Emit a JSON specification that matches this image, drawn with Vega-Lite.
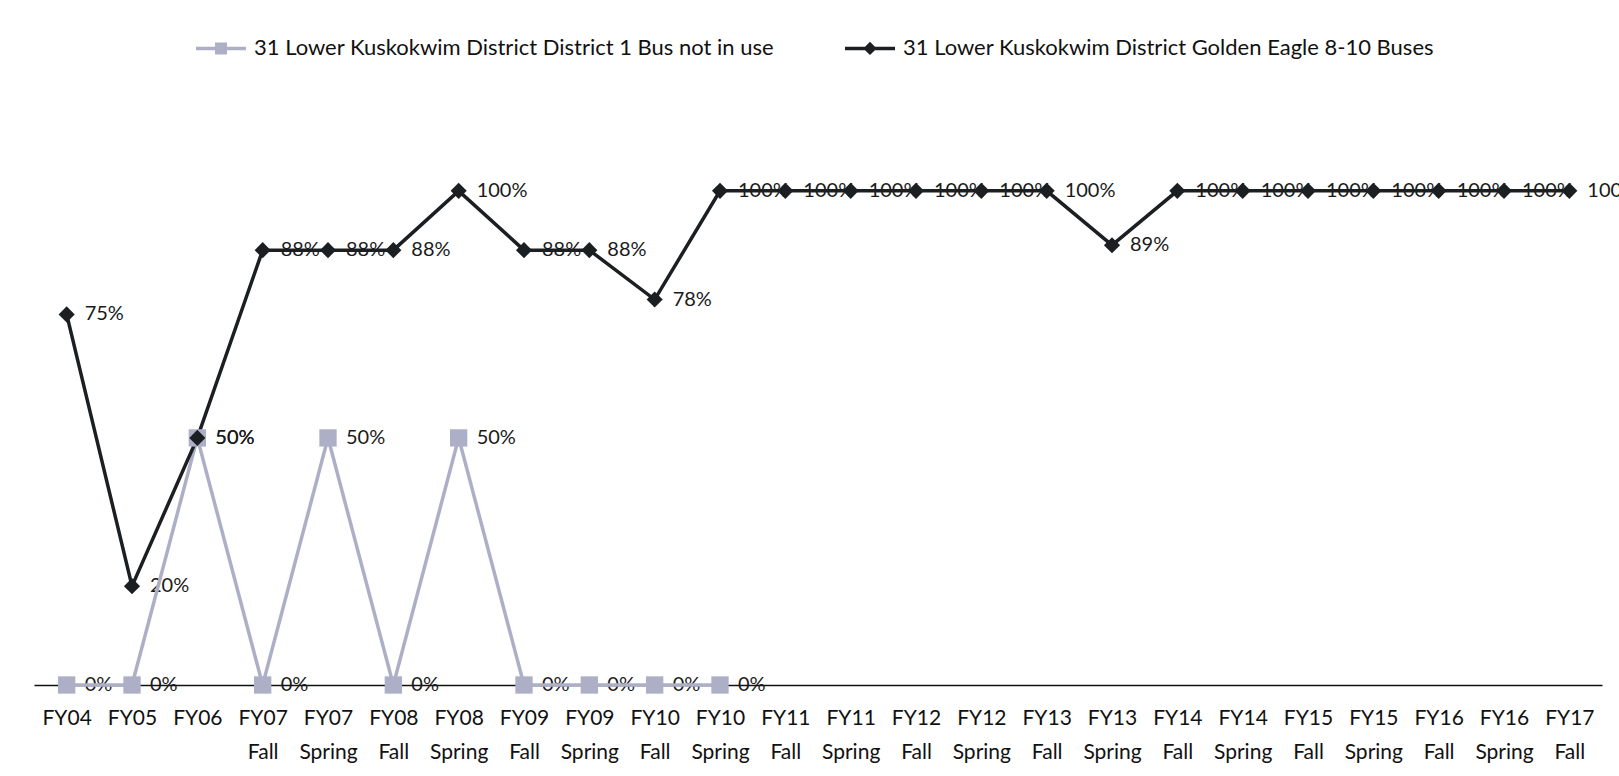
{
  "$schema": "https://vega.github.io/schema/vega-lite/v6.json",
  "autosize": {"type": "none"},
  "width": 1568,
  "height": 593,
  "padding": {"left": 34, "top": 92, "right": 17, "bottom": 91},
  "background": "white",
  "config": {"view": {"stroke": null}, "font": "Lato"},
  "data": {"values": [
    {"period": "FY04", "series": "31 Lower Kuskokwim District District 1 Bus not in use", "value": 0},
    {"period": "FY05", "series": "31 Lower Kuskokwim District District 1 Bus not in use", "value": 0},
    {"period": "FY06", "series": "31 Lower Kuskokwim District District 1 Bus not in use", "value": 0.5},
    {"period": "FY07 Fall", "series": "31 Lower Kuskokwim District District 1 Bus not in use", "value": 0},
    {"period": "FY07 Spring", "series": "31 Lower Kuskokwim District District 1 Bus not in use", "value": 0.5},
    {"period": "FY08 Fall", "series": "31 Lower Kuskokwim District District 1 Bus not in use", "value": 0},
    {"period": "FY08 Spring", "series": "31 Lower Kuskokwim District District 1 Bus not in use", "value": 0.5},
    {"period": "FY09 Fall", "series": "31 Lower Kuskokwim District District 1 Bus not in use", "value": 0},
    {"period": "FY09 Spring", "series": "31 Lower Kuskokwim District District 1 Bus not in use", "value": 0},
    {"period": "FY10 Fall", "series": "31 Lower Kuskokwim District District 1 Bus not in use", "value": 0},
    {"period": "FY10 Spring", "series": "31 Lower Kuskokwim District District 1 Bus not in use", "value": 0},
    {"period": "FY04", "series": "31 Lower Kuskokwim District Golden Eagle 8-10 Buses", "value": 0.75},
    {"period": "FY05", "series": "31 Lower Kuskokwim District Golden Eagle 8-10 Buses", "value": 0.2},
    {"period": "FY06", "series": "31 Lower Kuskokwim District Golden Eagle 8-10 Buses", "value": 0.5},
    {"period": "FY07 Fall", "series": "31 Lower Kuskokwim District Golden Eagle 8-10 Buses", "value": 0.88},
    {"period": "FY07 Spring", "series": "31 Lower Kuskokwim District Golden Eagle 8-10 Buses", "value": 0.88},
    {"period": "FY08 Fall", "series": "31 Lower Kuskokwim District Golden Eagle 8-10 Buses", "value": 0.88},
    {"period": "FY08 Spring", "series": "31 Lower Kuskokwim District Golden Eagle 8-10 Buses", "value": 1.0},
    {"period": "FY09 Fall", "series": "31 Lower Kuskokwim District Golden Eagle 8-10 Buses", "value": 0.88},
    {"period": "FY09 Spring", "series": "31 Lower Kuskokwim District Golden Eagle 8-10 Buses", "value": 0.88},
    {"period": "FY10 Fall", "series": "31 Lower Kuskokwim District Golden Eagle 8-10 Buses", "value": 0.78},
    {"period": "FY10 Spring", "series": "31 Lower Kuskokwim District Golden Eagle 8-10 Buses", "value": 1.0},
    {"period": "FY11 Fall", "series": "31 Lower Kuskokwim District Golden Eagle 8-10 Buses", "value": 1.0},
    {"period": "FY11 Spring", "series": "31 Lower Kuskokwim District Golden Eagle 8-10 Buses", "value": 1.0},
    {"period": "FY12 Fall", "series": "31 Lower Kuskokwim District Golden Eagle 8-10 Buses", "value": 1.0},
    {"period": "FY12 Spring", "series": "31 Lower Kuskokwim District Golden Eagle 8-10 Buses", "value": 1.0},
    {"period": "FY13 Fall", "series": "31 Lower Kuskokwim District Golden Eagle 8-10 Buses", "value": 1.0},
    {"period": "FY13 Spring", "series": "31 Lower Kuskokwim District Golden Eagle 8-10 Buses", "value": 0.89},
    {"period": "FY14 Fall", "series": "31 Lower Kuskokwim District Golden Eagle 8-10 Buses", "value": 1.0},
    {"period": "FY14 Spring", "series": "31 Lower Kuskokwim District Golden Eagle 8-10 Buses", "value": 1.0},
    {"period": "FY15 Fall", "series": "31 Lower Kuskokwim District Golden Eagle 8-10 Buses", "value": 1.0},
    {"period": "FY15 Spring", "series": "31 Lower Kuskokwim District Golden Eagle 8-10 Buses", "value": 1.0},
    {"period": "FY16 Fall", "series": "31 Lower Kuskokwim District Golden Eagle 8-10 Buses", "value": 1.0},
    {"period": "FY16 Spring", "series": "31 Lower Kuskokwim District Golden Eagle 8-10 Buses", "value": 1.0},
    {"period": "FY17 Fall", "series": "31 Lower Kuskokwim District Golden Eagle 8-10 Buses", "value": 1.0}
  ]},
  "encoding": {
    "x": {
      "field": "period", "type": "ordinal", "sort": null,
      "scale": {"type": "point", "padding": 0.5},
      "axis": {
        "title": null, "labelAngle": 0, "ticks": false,
        "domainColor": "#111", "domainWidth": 1.5,
        "labelColor": "#111", "labelFontSize": 21, "labelFont": "Lato",
        "labelPadding": 22, "labelLineHeight": 34, "labelBaseline": "top",
        "labelExpr": "split(datum.label, ' ')"
      }
    },
    "y": {
      "field": "value", "type": "quantitative",
      "scale": {"domain": [0, 1.2], "nice": false, "zero": true},
      "axis": null
    }
  },
  "layer": [
    {
      "mark": {"type": "text", "align": "left", "baseline": "middle", "dx": 18, "fontSize": 20, "font": "Lato", "color": "#1a1a1a"},
      "encoding": {"text": {"field": "value", "type": "quantitative", "format": ".0%"}}
    },
    {
      "mark": {"type": "line", "strokeWidth": 3.5},
      "encoding": {
        "color": {
          "field": "series", "type": "nominal",
          "scale": {"domain": ["31 Lower Kuskokwim District District 1 Bus not in use", "31 Lower Kuskokwim District Golden Eagle 8-10 Buses"], "range": ["#adafc6", "#1c1f22"]},
          "legend": {
            "title": null, "orient": "none", "direction": "horizontal",
            "legendX": 160, "legendY": -71, "labelLimit": 0,
            "columnPadding": 63, "labelFontSize": 22, "labelFont": "Lato", "labelColor": "#111",
            "symbolSize": 2500, "symbolStrokeWidth": 3.5, "labelOffset": 6,
            "encode": {"symbols": {"update": {
              "shape": {"signal": "datum.index == 0 ? 'M-1,0H1M-0.17,-0.17H0.17V0.17H-0.17Z' : 'M-1,0H1M0,-0.17L0.17,0L0,0.17L-0.17,0Z'"},
              "fill": {"signal": "datum.index == 0 ? '#adafc6' : '#1c1f22'"},
              "fillOpacity": {"value": 1}
            }}}
          }
        }
      }
    },
    {
      "mark": {"type": "point", "filled": true, "opacity": 1},
      "encoding": {
        "color": {"field": "series", "type": "nominal", "legend": null},
        "shape": {"field": "series", "type": "nominal", "scale": {"range": ["square", "diamond"]}, "legend": null},
        "size": {"field": "series", "type": "nominal", "scale": {"range": [300, 260]}, "legend": null}
      }
    }
  ]
}
